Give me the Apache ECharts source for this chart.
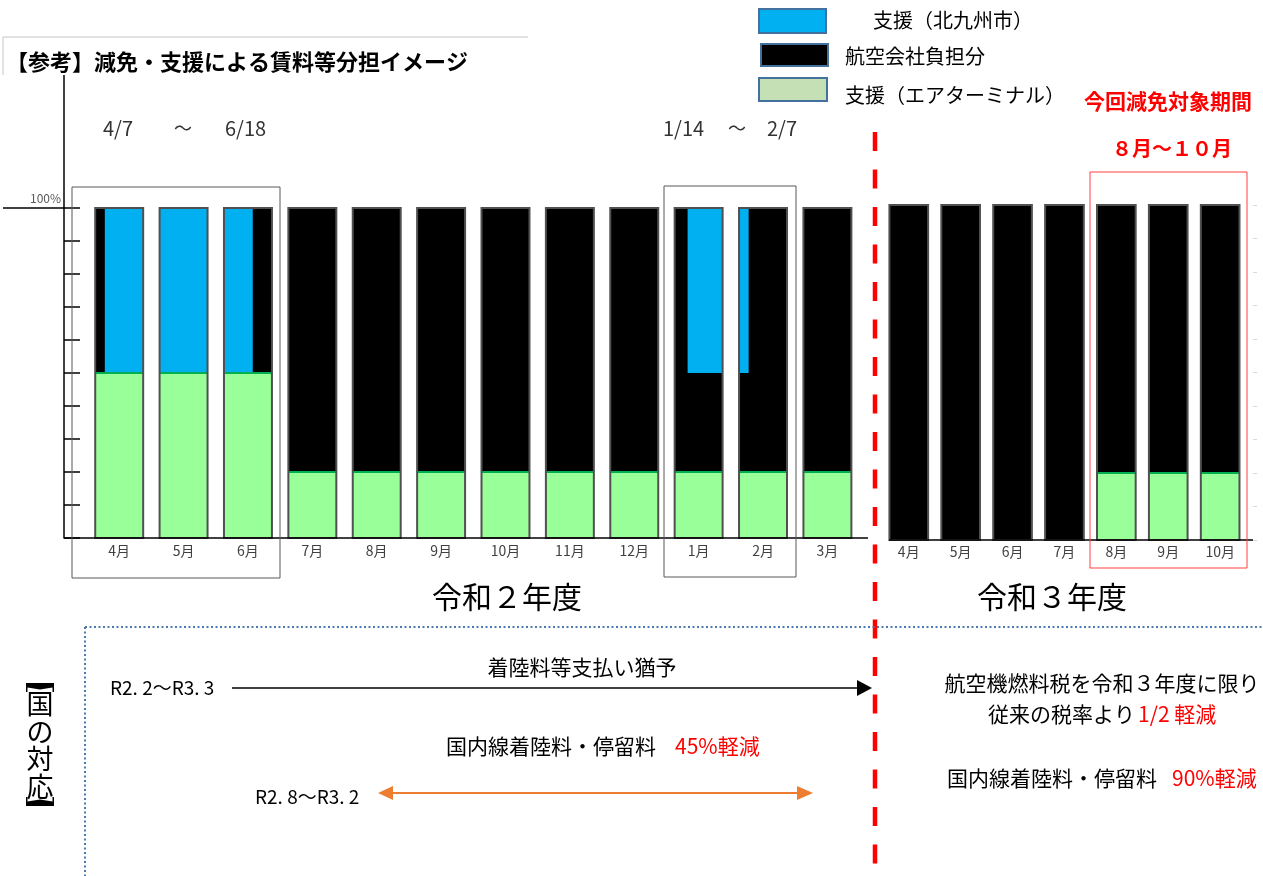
<!DOCTYPE html>
<html><head><meta charset="utf-8">
<script src="https://cdn.jsdelivr.net/npm/echarts@6/dist/echarts.min.js"></script>
<style>html,body{margin:0;padding:0;background:#fff}#c{width:1263px;height:876px}</style>
</head><body><div id="c"></div>
<script>
// ---- data ----
var monthsR2   = ['4月','5月','6月','7月','8月','9月','10月','11月','12月','1月','2月','3月'];
var totalR2    = [100,100,100,100,100,100,100,100,100,100,100,100];
var terminalR2 = [50,50,50,20,20,20,20,20,20,20,20,20];      // 支援（エアターミナル）
var cityLowR2  = [50,50,50,0,0,0,0,0,0,50,50,0];             // 支援（北九州市） lower edge
var cityHighR2 = [100,100,100,0,0,0,0,0,0,100,100,0];        // 支援（北九州市） upper edge
var cityFromR2 = [0.2,0,0,0,0,0,0,0,0,0.27,0,0];             // share of month (start)
var cityToR2   = [1,1,0.6,0,0,0,0,0,0,1,0.2,0];              // share of month (end)

var monthsR3   = ['4月','5月','6月','7月','8月','9月','10月'];
var totalR3    = [100,100,100,100,100,100,100];
var terminalR3 = [0,0,0,0,20,20,20];

var FF = '"Noto Sans CJK JP","Noto Sans",sans-serif';

function rows(months, total, term, lo, hi, f0, f1) {
  return months.map(function (m, i) {
    return [i, total[i], term[i], lo ? lo[i] : 0, hi ? hi[i] : 0, f0 ? f0[i] : 0, f1 ? f1[i] : 0];
  });
}

function renderBar(params, api) {
  var i = api.value(0);
  var bw = api.size([1, 0])[0] * 0.745;
  var base = api.coord([i, 0]);
  var top = api.coord([i, api.value(1)])[1];
  var gY = api.coord([i, api.value(2)])[1];
  var x0 = base[0] - bw / 2;
  var ch = [{type: 'rect', shape: {x: x0, y: top, width: bw, height: base[1] - top}, style: {fill: '#000'}}];
  if (api.value(2) > 0) {
    ch.push({type: 'rect', shape: {x: x0, y: gY, width: bw, height: base[1] - gY}, style: {fill: '#99FF99'}});
  }
  var lo = api.value(3), hi = api.value(4);
  if (hi > lo) {
    var yl = api.coord([i, lo])[1], yh = api.coord([i, hi])[1];
    var f0 = api.value(5), f1 = api.value(6);
    ch.push({type: 'rect', shape: {x: x0 + bw * f0, y: yh, width: bw * (f1 - f0), height: yl - yh}, style: {fill: '#00B0F0'}});
  }
  if (api.value(2) > 0) {
    ch.push({type: 'line', shape: {x1: x0, y1: gY, x2: x0 + bw, y2: gY}, style: {stroke: '#00B050', lineWidth: 2}});
  }
  ch.push({type: 'rect', shape: {x: x0, y: top, width: bw, height: base[1] - top}, style: {fill: 'none', stroke: '#505050', lineWidth: 2}});
  return {type: 'group', children: ch};
}

function T(x, y, s, o) {
  var st = {text: s, fontFamily: FF, fontSize: 20, fill: '#000', align: 'left', textAlign: 'left', verticalAlign: 'middle', textVerticalAlign: 'middle'};
  for (var k in o) st[k] = o[k];
  if (o && o.align) st.textAlign = o.align;
  return {type: 'text', x: x, y: y, style: st, z: 10};
}
function L(x1, y1, x2, y2, st) {
  return {type: 'line', shape: {x1: x1, y1: y1, x2: x2, y2: y2}, style: st, z: 10};
}
function R(x, y, w, h, st) {
  return {type: 'rect', shape: {x: x, y: y, width: w, height: h}, style: st, z: 10};
}
function P(pts, fill) {
  return {type: 'polygon', shape: {points: pts}, style: {fill: fill}, z: 10};
}

var graphics = [
  // title block
  L(3, 37, 528, 37, {stroke: '#d9d9d9', lineWidth: 1.5}),
  L(3, 37, 3, 75, {stroke: '#d9d9d9', lineWidth: 1.5}),
  T(6, 62, '【参考】減免・支援による賃料等分担イメージ', {fontSize: 22, fontWeight: 'bold'}),
  // axis extensions
  L(64, 75, 64, 208, {stroke: '#000', lineWidth: 1.5}),
  L(3, 208, 64, 208, {stroke: '#000', lineWidth: 1.5}),
  L(64, 538, 868, 538, {stroke: '#000', lineWidth: 1.5}),
  L(889, 540, 1253, 540, {stroke: '#000', lineWidth: 1.5}),
  // date ranges
  T(103, 128, '4/7', {fontSize: 20, fill: '#333'}),
  T(183, 128, '～', {fontSize: 18, fill: '#333', align: 'center'}),
  T(225, 128, '6/18', {fontSize: 20, fill: '#333'}),
  T(663, 128, '1/14', {fontSize: 20, fill: '#333'}),
  T(737, 128, '～', {fontSize: 18, fill: '#333', align: 'center'}),
  T(767, 128, '2/7', {fontSize: 20, fill: '#333'}),
  // legend
  R(759, 9, 67, 24, {fill: '#00B0F0', stroke: '#41719C', lineWidth: 2}),
  T(873, 20, '支援（北九州市）', {fontSize: 20}),
  R(761, 44, 67, 22, {fill: '#000', stroke: '#41719C', lineWidth: 2}),
  T(845, 56, '航空会社負担分', {fontSize: 20}),
  R(759, 78, 68, 23, {fill: '#C5E0B4', stroke: '#41719C', lineWidth: 2}),
  T(845, 95, '支援（エアターミナル）', {fontSize: 20}),
  T(1168, 101, '今回減免対象期間', {fontSize: 21, fontWeight: 'bold', fill: '#FF0000', align: 'center'}),
  T(1172, 148, '８月～１０月', {fontSize: 20, fontWeight: 'bold', fill: '#FF0000', align: 'center'}),
  // frames
  R(72, 187, 208, 391, {fill: 'none', stroke: '#595959', lineWidth: 1}),
  R(664, 186, 132, 391, {fill: 'none', stroke: '#595959', lineWidth: 1}),
  R(1090, 172, 157, 396, {fill: 'none', stroke: '#FF4040', lineWidth: 1}),
  // red dashed divider
  L(875, 132, 875, 876, {stroke: '#FF0000', lineWidth: 4.5, lineDash: [19, 18.5]}),
  // fiscal years
  T(507, 597, '令和２年度', {fontSize: 30, align: 'center'}),
  T(1052, 597, '令和３年度', {fontSize: 30, align: 'center'}),
  // dotted frame
  L(85, 627, 1263, 627, {stroke: '#4A7AB0', lineWidth: 2, lineDash: [2, 2.5]}),
  L(85, 627, 85, 876, {stroke: '#4A7AB0', lineWidth: 2, lineDash: [2, 2.5]}),
  // vertical heading 【国の対応】
  P([[26, 683], [54, 683], [54, 692], [52.5, 692], [52.5, 687.5], [40, 689.5], [27.5, 687.5], [27.5, 692], [26, 692]], '#000'),
  {type: 'text', x: 40, y: 690, z: 10, style: {
    text: '国\nの\n対\n応', fontFamily: FF, fontSize: 27, lineHeight: 27.5, fill: '#000',
    align: 'center', textAlign: 'center', verticalAlign: 'top', textVerticalAlign: 'top'
  }},
  P([[26, 806], [54, 806], [54, 797], [52.5, 797], [52.5, 801.5], [40, 799.5], [27.5, 801.5], [27.5, 797], [26, 797]], '#000'),
  // 着陸料等支払い猶予
  T(110, 688, 'R2. 2～R3. 3', {fontSize: 19}),
  T(582, 667, '着陸料等支払い猶予', {fontSize: 21, align: 'center'}),
  L(232, 688, 860, 688, {stroke: '#000', lineWidth: 1.5}),
  P([[857, 680], [872, 688], [857, 696]], '#000'),
  // 45%
  T(446, 746, '国内線着陸料・停留料', {fontSize: 21}),
  T(675, 746, '45%軽減', {fontSize: 21, fill: '#FF0000'}),
  T(255, 797, 'R2. 8～R3. 2', {fontSize: 19}),
  L(392, 793, 798, 793, {stroke: '#ED7D31', lineWidth: 2}),
  P([[378, 793], [393, 786], [393, 800]], '#ED7D31'),
  P([[813, 793], [797, 786], [797, 800]], '#ED7D31'),
  // R3 measures
  T(1102, 683, '航空機燃料税を令和３年度に限り', {fontSize: 21, align: 'center'}),
  T(988, 714, '従来の税率より', {fontSize: 21}),
  T(1138, 714, '1/2 軽減', {fontSize: 21, fill: '#FF0000'}),
  T(947, 778, '国内線着陸料・停留料', {fontSize: 21}),
  T(1172, 778, '90%軽減', {fontSize: 21, fill: '#FF0000'})
];

var chart = echarts.init(document.getElementById('c'), null, {renderer: 'canvas'});
chart.setOption({
  animation: false,
  backgroundColor: '#fff',
  grid: [
    {left: 87, top: 208, width: 772.6, height: 330, outerBoundsMode: 'none'},
    {left: 882.8, top: 205, width: 363.3, height: 335, outerBoundsMode: 'none'}
  ],
  xAxis: [
    {type: 'category', gridIndex: 0, data: monthsR2, axisLine: {show: false}, axisTick: {show: false},
     axisLabel: {fontSize: 14, color: '#404040', margin: 6, fontFamily: FF}, splitLine: {show: false}},
    {type: 'category', gridIndex: 1, data: monthsR3, axisLine: {show: false}, axisTick: {show: false},
     axisLabel: {fontSize: 14, color: '#404040', margin: 5, fontFamily: FF}, splitLine: {show: false}}
  ],
  yAxis: [
    {type: 'value', gridIndex: 0, min: 0, max: 100, interval: 10, offset: 23,
     axisLine: {show: true, lineStyle: {color: '#000', width: 1.5}},
     axisTick: {show: true, inside: true, length: 16, lineStyle: {color: '#000', width: 1.5}},
     axisLabel: {show: true, fontSize: 12, color: '#595959', margin: 3, verticalAlign: 'bottom', fontFamily: FF,
       padding: [0, 0, 4, 0],
       formatter: function (v) { return v === 100 ? '100%' : ''; }},
     splitLine: {show: false}},
    {type: 'value', gridIndex: 1, min: 0, max: 100, interval: 10, position: 'right', offset: 7,
     axisLine: {show: false},
     axisTick: {show: true, length: 4, lineStyle: {color: '#d9d9d9', width: 1}},
     axisLabel: {show: false}, splitLine: {show: false}}
  ],
  series: [
    {type: 'custom', name: '令和２年度', xAxisIndex: 0, yAxisIndex: 0, clip: false,
     renderItem: renderBar, data: rows(monthsR2, totalR2, terminalR2, cityLowR2, cityHighR2, cityFromR2, cityToR2)},
    {type: 'custom', name: '令和３年度', xAxisIndex: 1, yAxisIndex: 1, clip: false,
     renderItem: renderBar, data: rows(monthsR3, totalR3, terminalR3)}
  ],
  graphic: graphics
});
</script></body></html>
